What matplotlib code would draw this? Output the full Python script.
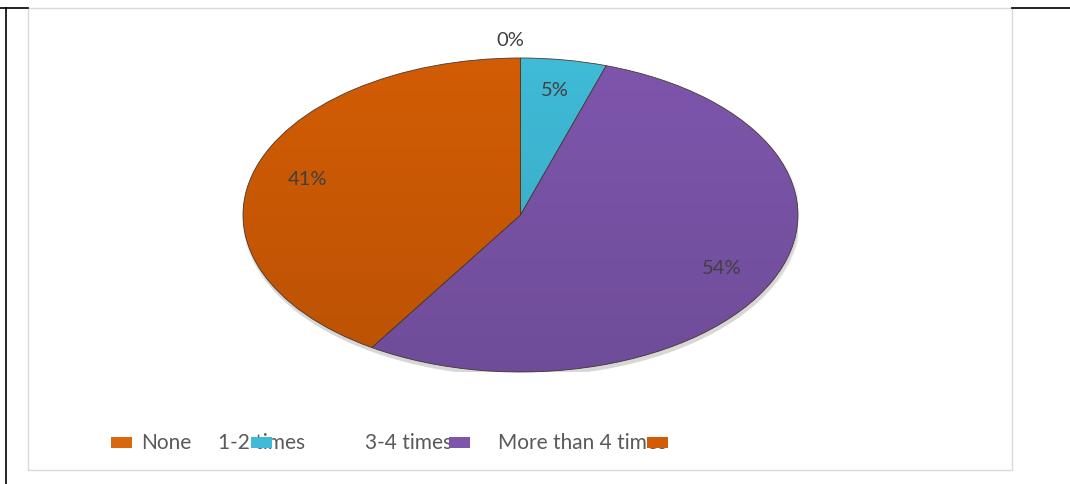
import numpy as np
import matplotlib
matplotlib.use("Agg")
import matplotlib.pyplot as plt
from matplotlib.patches import Rectangle, Circle
from matplotlib.lines import Line2D

categories = ["None", "1-2 times", "3-4 times", "More than 4 times"]
values = [0, 5, 54, 41]
pct_labels = ["0%", "5%", "54%", "41%"]
colors = ["#D8680E", "#3FBAD7", "#7D56AC", "#D25C05"]

plt.rcParams['font.family'] = ['Lato', 'DejaVu Sans']

W, H = 1070, 484
fig = plt.figure(figsize=(W / 100, H / 100), dpi=100)
fig.patch.set_facecolor("white")

def fx(px):
    return px / W

def fy(py):
    return 1 - py / H

# outer black lines
fig.add_artist(Line2D([fx(6), fx(6)], [fy(8), fy(484)], color="black", lw=1.2))
fig.add_artist(Line2D([fx(0), fx(28)], [fy(8), fy(8)], color="black", lw=1.2))
fig.add_artist(Line2D([fx(1012), fx(1070)], [fy(8), fy(8)], color="black", lw=1.2))
# chart area border
fig.add_artist(Rectangle((fx(28), fy(470)), fx(1012) - fx(28), fy(8) - fy(470),
                         fill=False, edgecolor="#D9D9D9", lw=1.0))

# pie axes (elliptical)
ax = fig.add_axes([fx(243), fy(372), fx(798) - fx(243), fy(58) - fy(372)])

# shadow
for i, a in enumerate([0.10, 0.12, 0.15]):
    ax.add_patch(Circle((0.004, -0.018 - 0.006 * i), 1.0 + 0.004 * (2 - i),
                        facecolor="#888888", edgecolor="none", alpha=a, zorder=0))

wedges, _ = ax.pie(values, colors=colors, startangle=90, counterclock=False,
                   radius=1.0, center=(0, 0), frame=True,
                   wedgeprops=dict(edgecolor="#4a3a30", linewidth=0.6))
for w in wedges:
    w.set_zorder(2)

# gradient overlay for a shaded look
grad = np.linspace(0, 1, 256)
rgba = np.zeros((256, 1, 4))
rgba[:, 0, 3] = 0.11 * grad
img = ax.imshow(rgba, extent=[-1, 1, -1, 1], origin="upper", aspect="auto", zorder=3,
                interpolation="bilinear")
clip = Circle((0, 0), 1.0, transform=ax.transData)
img.set_clip_path(clip)
ax.set_xlim(-1, 1)
ax.set_ylim(-1, 1)
ax.set_aspect("auto")
ax.axis("off")

# percentage labels
for w, v, lab in zip(wedges, values, pct_labels):
    mid = np.deg2rad((w.theta1 + w.theta2) / 2)
    r = 1.11 if v == 0 else 0.8
    x, y = r * np.cos(mid), r * np.sin(mid)
    if v == 0:
        x -= 0.035
    ax.text(x, y, lab, ha="center", va="center", fontsize=14.5, color="#404040", zorder=5)

# legend (as in the reference, markers drawn with offset)
text_x = [141, 218, 365, 498]
mark_x = [111, 251, 449, 647]
leg_y = 443
for name, c, tx, mx in zip(categories, colors, text_x, mark_x):
    fig.text(fx(tx), fy(leg_y), name, ha="left", va="center", fontsize=15, color="#595959")
    fig.add_artist(Rectangle((fx(mx), fy(448)), fx(21), fy(437) - fy(448),
                             facecolor=c, edgecolor="none", zorder=10))

fig.savefig("out.png", dpi=100, facecolor="white")
